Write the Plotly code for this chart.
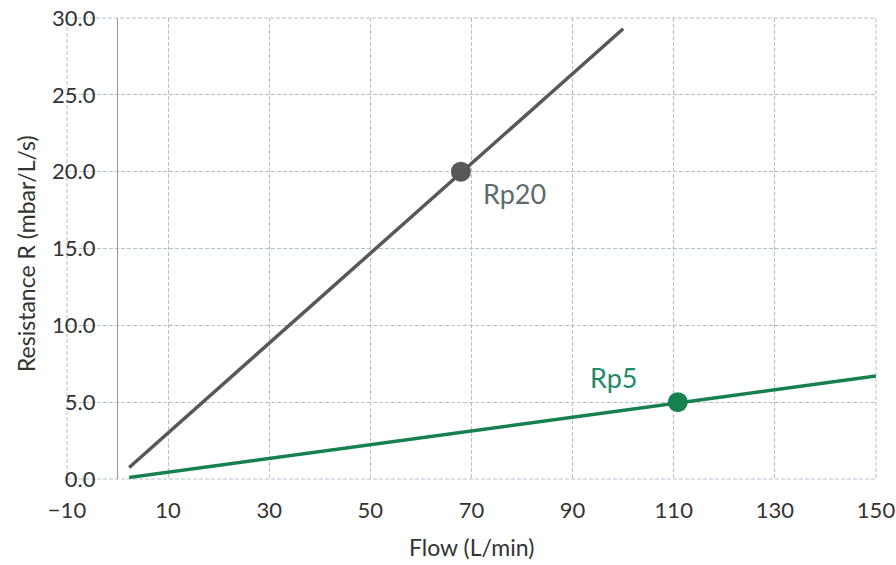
import plotly.graph_objects as go

# Data
flow_rp20 = [2.3, 100.0]
res_rp20 = [0.75, 29.3]
flow_rp5 = [2.3, 150.0]
res_rp5 = [0.1, 6.7]
point_rp20 = (67.9, 20.0)
point_rp5 = (110.8, 5.0)
x_ticks = [-10, 10, 30, 50, 70, 90, 110, 130, 150]
y_ticks = [0, 5, 10, 15, 20, 25, 30]
y_tick_text = ["0.0", "5.0", "10.0", "15.0", "20.0", "25.0", "30.0"]

GRAY = "#55595a"
GREEN = "#17804f"
GRID = "#b3c0cf"
FONT = "Lato"
TXT = "#333333"

fig = go.Figure()
fig.add_trace(go.Scatter(x=flow_rp20, y=res_rp20, mode="lines",
                         line=dict(color=GRAY, width=3.5), showlegend=False))
fig.add_trace(go.Scatter(x=flow_rp5, y=res_rp5, mode="lines",
                         line=dict(color=GREEN, width=3.5), showlegend=False))
fig.add_trace(go.Scatter(x=[point_rp20[0]], y=[point_rp20[1]], mode="markers",
                         marker=dict(color=GRAY, size=20), showlegend=False))
fig.add_trace(go.Scatter(x=[point_rp5[0]], y=[point_rp5[1]], mode="markers",
                         marker=dict(color=GREEN, size=20), showlegend=False))

fig.add_annotation(x=78.6, y=18.6, text="Rp20", showarrow=False,
                   font=dict(family=FONT, size=27, color="#5e6a6c"))
fig.add_annotation(x=98.2, y=6.6, text="Rp5", showarrow=False,
                   font=dict(family=FONT, size=27, color="#1d8a6a"))

fig.add_annotation(xref="paper", yref="paper", x=-0.0507, y=0.49,
                   text="Resistance R (mbar/L/s)", textangle=-90, showarrow=False,
                   xanchor="center", yanchor="middle",
                   font=dict(family=FONT, size=23, color=TXT))
fig.add_annotation(xref="paper", yref="paper", x=0.5, y=-0.148,
                   text="Flow (L/min)", showarrow=False, yanchor="middle",
                   font=dict(family=FONT, size=23, color=TXT))

# dashed frame around the plotting area
fig.add_shape(type="rect", xref="paper", yref="paper", x0=0, x1=1, y0=0, y1=1,
              line=dict(color=GRID, width=1, dash="4px,2px"), layer="below")

xmin, xmax = -10, 150
fig.update_layout(
    width=896, height=565,
    margin=dict(l=67, r=20, t=18, b=86, autoexpand=False),
    paper_bgcolor="white", plot_bgcolor="white",
    font=dict(family=FONT, size=22, color=TXT),
    xaxis=dict(range=[xmin, xmax], tickvals=x_ticks, showgrid=True,
               gridcolor=GRID, griddash="4px,2px", gridwidth=1,
               zeroline=True, zerolinecolor="#8d9aa8", zerolinewidth=1,
               showline=False, ticks="", ticklabelstandoff=16,
               ticklabeloverflow="allow", automargin=False,
               tickfont=dict(family=FONT, size=22, color=TXT)),
    yaxis=dict(range=[0, 30], tickvals=y_ticks, ticktext=y_tick_text,
               showgrid=True, gridcolor=GRID, griddash="4px,2px", gridwidth=1,
               zeroline=False, showline=False, ticks="",
               anchor="free", position=(0 - xmin) / (xmax - xmin),
               ticklabelstandoff=22, ticklabeloverflow="allow",
               automargin=False,
               tickfont=dict(family=FONT, size=22, color=TXT)),
)

fig.write_html("out.html", config={"displayModeBar": False},
               post_script="document.body.style.margin='0';")
